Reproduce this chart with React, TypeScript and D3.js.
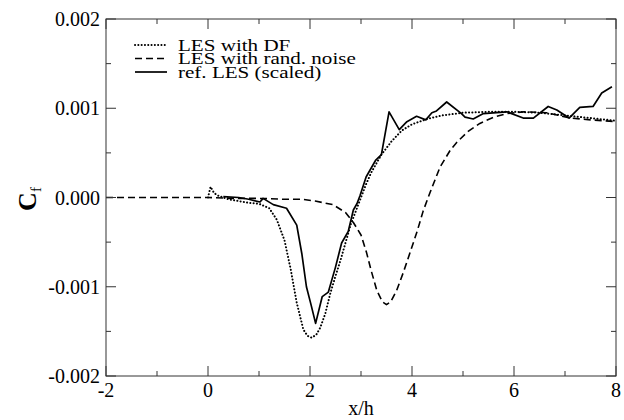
import React, { useEffect, useRef } from "react";
import * as d3 from "d3";

const xTicksMajor = [-2, 0, 2, 4, 6, 8];
const xTicksMinor = [-1, 1, 3, 5, 7];
const yTicksMajor = [-0.002, -0.001, 0, 0.001, 0.002];
const yTicksMinor = [-0.0015, -0.0005, 0.0005, 0.0015];
const yTickLabels = ["-0.002", "-0.001", "0.000", "0.001", "0.002"];

const dfX = [0, 0.05, 0.12, 0.2, 0.4, 0.6, 0.8, 1.0, 1.2, 1.35, 1.5, 1.62, 1.74, 1.87, 1.95, 2.03, 2.12, 2.2, 2.3, 2.4, 2.5, 2.6, 2.7, 2.8, 2.9, 3.0, 3.1, 3.2, 3.4, 3.6, 3.8, 4.0, 4.3, 4.6, 5.0, 5.5, 6.0, 6.5, 7.0, 7.5, 8.0];
const dfY = [0, 0.12, 0.05, 0.02, -0.02, -0.04, -0.06, -0.07, -0.12, -0.25, -0.48, -0.8, -1.18, -1.48, -1.55, -1.57, -1.54, -1.46, -1.3, -1.07, -0.88, -0.7, -0.5, -0.3, -0.15, 0.0, 0.15, 0.28, 0.48, 0.63, 0.75, 0.82, 0.88, 0.92, 0.95, 0.96, 0.96, 0.95, 0.92, 0.89, 0.86];

const rnX = [-2, -1, 0, 0.5, 1.0, 1.5, 1.85, 2.1, 2.45, 2.7, 2.85, 3.0, 3.11, 3.2, 3.31, 3.42, 3.5, 3.58, 3.7, 3.83, 3.96, 4.1, 4.22, 4.35, 4.55, 4.75, 4.88, 5.1, 5.33, 5.6, 5.86, 6.2, 6.64, 7.1, 7.5, 8.0];
const rnY = [0, 0, 0, -0.01, -0.01, -0.02, -0.02, -0.04, -0.08, -0.17, -0.28, -0.42, -0.62, -0.82, -1.04, -1.17, -1.2, -1.17, -1.04, -0.84, -0.62, -0.38, -0.15, 0.05, 0.34, 0.53, 0.62, 0.74, 0.83, 0.9, 0.94, 0.96, 0.95, 0.89, 0.87, 0.85];

const refX = [0.3, 0.6, 0.8, 1.02, 1.08, 1.28, 1.54, 1.74, 1.84, 1.93, 2.02, 2.11, 2.24, 2.36, 2.5, 2.62, 2.75, 2.85, 2.92, 2.98, 3.1, 3.29, 3.4, 3.55, 3.75, 3.9, 4.09, 4.27, 4.39, 4.48, 4.68, 4.97, 5.04, 5.2, 5.4, 5.86, 6.18, 6.38, 6.67, 6.84, 7.08, 7.29, 7.55, 7.72, 7.92];
const refY = [0.01, 0.0, -0.02, -0.05, -0.01, -0.08, -0.12, -0.31, -0.63, -1.0, -1.2, -1.41, -1.11, -1.06, -0.78, -0.51, -0.38, -0.14, -0.07, 0.02, 0.23, 0.42, 0.48, 0.96, 0.76, 0.85, 0.91, 0.87, 0.95, 0.97, 1.07, 0.94, 0.9, 0.88, 0.94, 0.96, 0.89, 0.89, 1.02, 0.98, 0.89, 1.01, 1.02, 1.17, 1.24];

const seriesNames = ["LES with DF", "LES with rand. noise", "ref. LES (scaled)"];

const W = 624, H = 420;
const L = 106, R = 616, T = 19, B = 376;
const FONT = "'Liberation Serif', 'DejaVu Serif', serif";

export default function App() {
  const ref = useRef<SVGSVGElement | null>(null);
  useEffect(() => {
    const svg = d3.select(ref.current);
    svg.selectAll("*").remove();
    const x = d3.scaleLinear().domain([-2, 8]).range([L, R]);
    const y = d3.scaleLinear().domain([-0.002, 0.002]).range([B, T]);

    const series = [
      { xs: dfX, ys: dfY, dash: "0.1,3.2", cap: "round", w: 2.0 },
      { xs: rnX, ys: rnY, dash: "7,4", cap: "butt", w: 1.6 },
      { xs: refX, ys: refY, dash: null, cap: "butt", w: 1.7 },
    ];
    const line = d3.line<[number, number]>().x(d => x(d[0])).y(d => y(d[1] * 0.001));
    series.forEach(s => {
      const pts = s.xs.map((v, i) => [v, s.ys[i]] as [number, number]);
      const p = svg.append("path").attr("d", line(pts)).attr("fill", "none")
        .attr("stroke", "#000").attr("stroke-width", s.w).attr("stroke-linecap", s.cap)
        .attr("stroke-linejoin", "round");
      if (s.dash) p.attr("stroke-dasharray", s.dash);
    });

    svg.append("rect").attr("x", L).attr("y", T).attr("width", R - L).attr("height", B - T)
      .attr("fill", "none").attr("stroke", "#333").attr("stroke-width", 1);

    const tg = svg.append("g").attr("stroke", "#333").attr("stroke-width", 1);
    const addX = (v: number, len: number) => {
      tg.append("line").attr("x1", x(v)).attr("x2", x(v)).attr("y1", B).attr("y2", B - len);
      tg.append("line").attr("x1", x(v)).attr("x2", x(v)).attr("y1", T).attr("y2", T + len);
    };
    const addY = (v: number, len: number) => {
      tg.append("line").attr("y1", y(v)).attr("y2", y(v)).attr("x1", L).attr("x2", L + len);
      tg.append("line").attr("y1", y(v)).attr("y2", y(v)).attr("x1", R).attr("x2", R - len);
    };
    xTicksMajor.forEach(v => addX(v, 10));
    xTicksMinor.forEach(v => addX(v, 5));
    yTicksMajor.forEach(v => addY(v, 10));
    yTicksMinor.forEach(v => addY(v, 5));

    const lab = svg.append("g").attr("font-family", FONT).attr("font-size", 20).attr("fill", "#000");
    xTicksMajor.forEach(v => {
      lab.append("text").attr("x", x(v)).attr("y", 397).attr("text-anchor", "middle").text(String(v));
    });
    yTicksMajor.forEach((v, i) => {
      lab.append("text").attr("x", 100).attr("y", y(v) + 7).attr("text-anchor", "end").text(yTickLabels[i]);
    });
    lab.append("text").attr("x", (L + R) / 2).attr("y", 415).attr("text-anchor", "middle").text("x/h");

    const cf = svg.append("text").attr("transform", "translate(36,199) rotate(-90)")
      .attr("text-anchor", "middle").attr("font-family", FONT).attr("font-size", 26).attr("font-weight", "bold");
    cf.append("tspan").text("C");
    cf.append("tspan").attr("font-size", 15).attr("font-weight", "normal").attr("dy", 5).text("f");

    const rows = [45, 58.5, 72];
    series.forEach((s, i) => {
      const l = svg.append("line").attr("x1", 135).attr("x2", 167).attr("y1", rows[i]).attr("y2", rows[i])
        .attr("stroke", "#000").attr("stroke-width", s.w).attr("stroke-linecap", s.cap);
      if (s.dash) l.attr("stroke-dasharray", s.dash);
      svg.append("text").attr("transform", `translate(178,${rows[i] + 5.5}) scale(1.24,1)`)
        .attr("font-family", FONT).attr("font-size", 17).text(seriesNames[i]);
    });
  }, []);
  return <svg ref={ref} width={W} height={H} style={{ display: "block", position: "absolute", left: 0, top: 0 }} />;
}
